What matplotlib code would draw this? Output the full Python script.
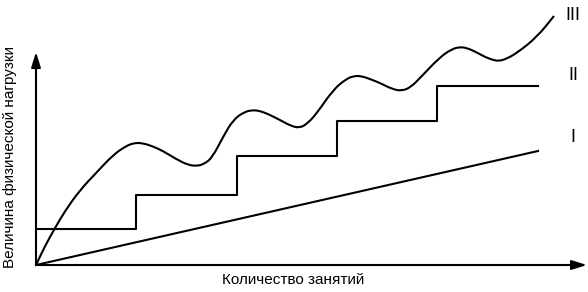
import numpy as np
import matplotlib
matplotlib.use('Agg')
import matplotlib.pyplot as plt
from matplotlib.path import Path
from matplotlib.patches import PathPatch

plt.rcParams['font.family'] = ['Liberation Sans', 'DejaVu Sans']

# линия I - равномерный рост
line1_x = [0.0, 5.02]
line1_y = [0.0, 1.14]

# линия II - ступенчатый рост
step_x = [0.0, 1.0, 2.01, 3.01, 4.01, 5.02]
step_y = [0.36, 0.70, 1.09, 1.44, 1.79, 1.79]

# линия III - волнообразный рост
wave_x = [0.0, 0.09, 0.19, 0.29, 0.44, 0.61, 0.77, 0.90, 0.98, 1.06, 1.16, 1.27, 1.40,
          1.52, 1.61, 1.68, 1.76, 1.87, 1.97, 2.08, 2.17, 2.24, 2.32, 2.44, 2.55, 2.64,
          2.72, 2.81, 2.97, 3.10, 3.18, 3.25, 3.34, 3.44, 3.56, 3.66, 3.75, 3.84,
          4.04, 4.16, 4.24, 4.31, 4.40, 4.49, 4.57, 4.63, 4.70, 4.81, 5.01, 5.18]
wave_y = [0.0, 0.19, 0.37, 0.54, 0.75, 0.93, 1.10, 1.19, 1.22, 1.22, 1.19, 1.14, 1.06,
          1.00, 0.99, 1.01, 1.07, 1.28, 1.45, 1.53, 1.55, 1.54, 1.51, 1.45, 1.39, 1.37,
          1.42, 1.52, 1.75, 1.86, 1.89, 1.89, 1.86, 1.82, 1.76, 1.74, 1.78, 1.87,
          2.08, 2.16, 2.18, 2.17, 2.13, 2.08, 2.05, 2.04, 2.06, 2.12, 2.28, 2.49]

labels = ['I', 'II', 'III']
label_y = [1.27, 1.89, 2.50]

fig = plt.figure(figsize=(5.88, 2.92), dpi=100)
ax = fig.add_axes([0, 0, 1, 1])
ax.set_xlim(-0.36, 5.52)
ax.set_ylim(-0.27, 2.65)
ax.axis('off')

lw = 1.5
ax.plot(line1_x, line1_y, color='black', lw=lw)
ax.step(step_x, step_y, where='post', color='black', lw=lw)

# сглаженная кривая III (квадратичные сплайны через средние точки)
pts = np.column_stack([wave_x, wave_y])
verts = [pts[0], (pts[0] + pts[1]) / 2]
codes = [Path.MOVETO, Path.LINETO]
for i in range(1, len(pts) - 1):
    verts += [pts[i], (pts[i] + pts[i + 1]) / 2]
    codes += [Path.CURVE3, Path.CURVE3]
verts.append(pts[-1])
codes.append(Path.LINETO)
ax.add_patch(PathPatch(Path(verts, codes), facecolor='none', edgecolor='black',
                       lw=lw, clip_on=False))

# оси со стрелками
ax.annotate('', xy=(5.51, 0), xytext=(0, 0),
            arrowprops=dict(arrowstyle='-|>,head_length=0.9,head_width=0.28', color='black', lw=lw,
                            shrinkA=0, shrinkB=0))
ax.annotate('', xy=(0, 2.13), xytext=(0, 0),
            arrowprops=dict(arrowstyle='-|>,head_length=0.9,head_width=0.28', color='black', lw=lw,
                            shrinkA=0, shrinkB=0))

for t, y in zip(labels, label_y):
    ax.text(5.37, y, t, ha='center', va='center', fontsize=13)

ax.text(2.57, -0.15, 'Количество занятий', ha='center', va='center', fontsize=11)
ax.text(-0.26, 1.08, 'Величина физической нагрузки', ha='center', va='center',
        rotation=90, fontsize=11)

fig.savefig('out.png', dpi=100)
